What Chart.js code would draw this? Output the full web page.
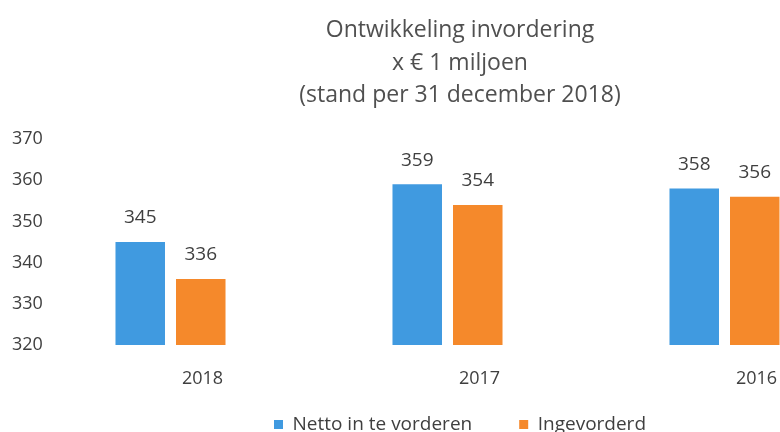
<!DOCTYPE html>
<html>
<head>
<meta charset="utf-8">
<script src="https://cdn.jsdelivr.net/npm/chart.js@4"></script>
<style>
  html, body { margin: 0; padding: 0; background: #fff; overflow: hidden; }
  #wrap { width: 920px; height: 432px; }
</style>
</head>
<body>
<div id="wrap"><canvas id="invChart"></canvas></div>
<script>
const years = ['2018', '2017', '2016'];
const netto = [345, 359, 358];
const ingevorderd = [336, 354, 356];
const titleLines = ['Ontwikkeling invordering', 'x € 1 miljoen', '(stand per 31 december 2018)'];

const textColor = '#3f3f3f';
const fontFamily = '"Open Sans", Lato, sans-serif';

// value labels above every bar
const barLabels = {
    id: 'barLabels',
    afterDatasetsDraw(chart) {
        const ctx = chart.ctx;
        ctx.save();
        ctx.font = '19px ' + fontFamily;
        ctx.fillStyle = textColor;
        ctx.textAlign = 'center';
        ctx.textBaseline = 'middle';
        chart.data.datasets.forEach((ds, i) => {
            chart.getDatasetMeta(i).data.forEach((bar, j) => {
                ctx.fillText(ds.data[j], bar.x, bar.y - 24);
            });
        });
        ctx.restore();
    }
};

new Chart(document.getElementById('invChart'), {
    type: 'bar',
    data: {
        labels: years,
        datasets: [
            { label: 'Netto in te vorderen', data: netto, backgroundColor: '#409ae0' },
            { label: 'Ingevorderd', data: ingevorderd, backgroundColor: '#f5892b' }
        ]
    },
    options: {
        responsive: true,
        maintainAspectRatio: false,
        animation: false,
        datasets: { bar: { categoryPercentage: 0.437, barPercentage: 0.818 } },
        layout: { padding: { left: 12, right: 12, top: 0, bottom: -12 } },
        plugins: {
            title: {
                display: true,
                text: titleLines,
                color: '#505050',
                font: { family: fontFamily, size: 23, weight: 'normal', lineHeight: 1.42 },
                padding: { top: 14, bottom: 27 }
            },
            legend: {
                position: 'bottom',
                labels: {
                    color: textColor,
                    font: { family: fontFamily, size: 19 },
                    boxWidth: 9,
                    boxHeight: 9,
                    padding: 47
                }
            },
            tooltip: { enabled: false }
        },
        scales: {
            x: {
                grid: { display: false, drawTicks: false },
                border: { display: false },
                // mirrored so the labels are not clipped to a thin axis box
                ticks: { color: textColor, font: { family: fontFamily, size: 18 }, mirror: true, padding: -45, labelOffset: 32 },
                afterFit(scale) { scale.height = 23; }
            },
            y: {
                min: 320,
                max: 370,
                grid: { display: false, drawTicks: false },
                border: { display: false },
                ticks: { stepSize: 10, color: textColor, font: { family: fontFamily, size: 18 }, mirror: true, padding: -20 },
                afterFit(scale) { scale.width = 20; }
            },
            yr: {
                position: 'right',
                grid: { display: false, drawTicks: false },
                border: { display: false },
                ticks: { display: false },
                afterFit(scale) { scale.width = 45; }
            }
        }
    },
    plugins: [barLabels]
});
</script>
</body>
</html>
